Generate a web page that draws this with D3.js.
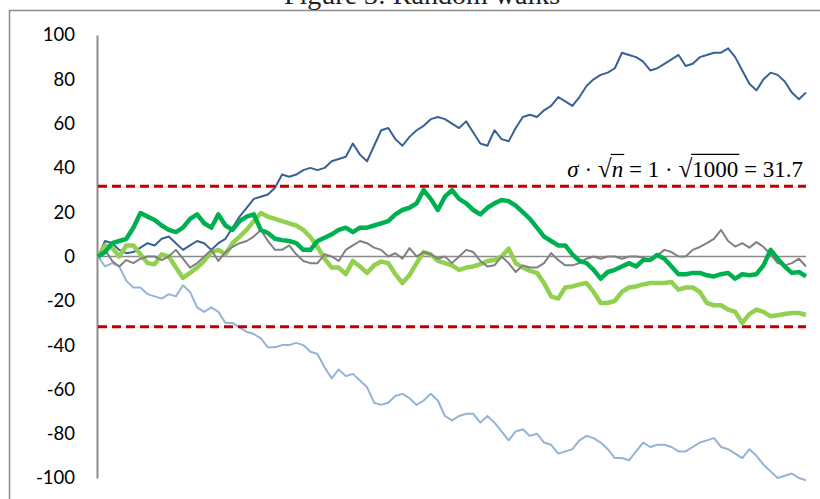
<!DOCTYPE html>
<html>
<head>
<meta charset="utf-8">
<script src="https://cdn.jsdelivr.net/npm/d3@7"></script>
<style>
  body { margin: 0; background: #fff; }
  svg { display: block; }
</style>
</head>
<body>
<script>
// values read every 10 steps (0..1000)
var darkBlue = [0,7,6,3,1.5,2,4,6,5,8, 9,6,3,5,7,6,3,6,8,13, 18,22,26,27,28,31,37,36,37,39,
  40,39,40,43,44,45,51,46,43,50, 57,58,53,50,54,57,59,62,63,62, 60,58,61,56,51,50,57,53,52,58,
  63,64,63,66,68,72,70,68,72,77, 80,82,83,85,92,91,90,88,84,85, 87,89,91,86,87,90,91,92,92,94,
  90,84,78,75,80,83,82,79,74,71, 74];
var lightBlue = [0,-4.5,-3,-4.5,-11,-14,-14,-17,-18,-19, -17,-18,-13,-16,-23,-25,-23,-25,-30,-30,
  -32,-34,-35,-37,-41,-41,-40,-40,-39,-40, -43,-44,-50,-55,-51,-54,-53,-56,-59,-66,
  -67,-66,-63,-62,-64,-67,-65,-62,-65,-72, -74,-72,-71,-71,-75,-72,-75,-79,-83,-79,
  -78,-81,-80,-84,-85,-89,-88,-87,-83,-81, -82,-84,-87,-91,-91,-92,-88,-84,-86,-85,
  -85,-86,-88,-88,-86,-84,-83,-82,-86,-87, -89,-91,-87,-90,-94,-97,-100,-99,-98,-100, -101];
var grey = [0,3,-2,-4.5,-1.6,-3,-1,0,0,-1.6, 0,3,-1,-5,-3,0,3,-2,2,4.3, 6,7,9,12,7,3,3,5,1,-2,
  -3,-3,1,0,-2,3,5,7,6,4, 3,0,1.5,-1,3.8,0,2,1,-1,0, -3,0,3,2,-2,-4.5,-4,0,-3,-7,
  -4,-5,-5,-3,1.5,-1.6,-4,-4,-3,-1, 0,-1,0,0,-1,0,0,-0.5,-1.6,0.5, 3,2,0,0,3,4.3,6,8,12,7,
  4.5,6,4,6.5,4.3,1,-3,-4,-3,-1, -4.5];
var green = [0,2,6,7,8,13,19.6,18,16.5,14, 12,11,13,17,19,15,13,19,14,12, 16,18,19,12,10.6,8,7.4,7,6,3,
  3,7,8.5,10,12,13,11,13,13,14, 15,16,19,21,22,24,30,26,21,27, 30,26,24,21,19,22,24,25.5,25,23,
  20,17,13,9,7,5,5,1,-2,-3, -6,-10,-7,-6,-4.5,-3,-4.5,-1.6,-1.6,0.7, -1,-4.5,-8,-8,-7.4,-7.4,-8.5,-9,-8,-7.4,
  -10,-8,-8.5,-8,-4,3,-1,-4.5,-7.4,-7, -9];
var lightGreen = [0,5,4,0,5,5,1,-3,-3.5,1, 0,-5,-9.7,-7.4,-5,-2,2,3,1,6, 9,12,16,19.6,18,17,16,15,14,12,
  8.8,4.3,-1,-5,-5,-8,-2,-4.5,-7.4,-4, -2.3,-3,-8,-12,-8.4,-3,2,1,-2,-3, -4,-6,-5,-4.5,-3.5,-2,-1.6,0,3.5,-3,
  -5,-6.5,-7.4,-12,-18,-19,-14,-13.5,-12.6,-12, -16,-21,-21,-20,-16,-14,-13.5,-12.6,-12,-12,
  -12,-11.5,-15,-14,-14,-16,-21,-22,-22,-24, -25,-30,-26,-24,-25,-27,-26.5,-26,-25.5,-25.5, -26.4];

var steps = d3.range(0, 1001, 10);
var yTicks = [-100, -80, -60, -40, -20, 0, 20, 40, 60, 80, 100];
var sigmaBand = 31.7;

var w = 820, h = 499;

var svg = d3.select("body").append("svg").attr("width", w).attr("height", h);

// chart frame (runs off the bottom/right of the picture)
svg.append("rect").attr("x", 9.5).attr("y", 10.5).attr("width", 840).attr("height", 540)
  .attr("fill", "none").attr("stroke", "#8c8c8c").attr("stroke-width", 1.5);

svg.append("text").attr("x", 422).attr("y", 4).attr("text-anchor", "middle")
  .attr("font-family", "Liberation Serif").attr("font-size", 28).attr("fill", "#222")
  .text("Figure 3: Random walks");

var x = d3.scaleLinear().domain([0, 1000]).range([98, 806]);
var y = d3.scaleLinear().domain([-100, 100]).range([478, 35]);

var yAxis = svg.append("g").attr("transform", "translate(97,0)")
  .call(d3.axisLeft(y).tickValues(yTicks).tickSize(0).tickPadding(22).tickFormat(String));
yAxis.select(".domain").attr("stroke", "#8c8c8c").attr("stroke-width", 2);
yAxis.selectAll("text").attr("font-family", "Lato").attr("font-size", 18.5).attr("fill", "#000");

// zero line
svg.append("line").attr("x1", x(0)).attr("x2", x(1000)).attr("y1", y(0)).attr("y2", y(0))
  .attr("stroke", "#8c8c8c").attr("stroke-width", 1.5);

var line = d3.line()
  .x(function(d, i) { return x(steps[i]); })
  .y(function(d) { return y(d); });

var series = [
  {vals: lightBlue, color: "#95b3d7", width: 2},
  {vals: darkBlue, color: "#3a6196", width: 2},
  {vals: lightGreen, color: "#92d050", width: 4.5},
  {vals: grey, color: "#808080", width: 2},
  {vals: green, color: "#00b050", width: 4.5}
];

series.forEach(function(s) {
  svg.append("path").datum(s.vals).attr("d", line)
    .attr("fill", "none").attr("stroke", s.color).attr("stroke-width", s.width)
    .attr("stroke-linejoin", "round");
});

// +/- sigma*sqrt(n) bands
[sigmaBand, -sigmaBand].forEach(function(v) {
  svg.append("line").attr("x1", x(0)).attr("x2", x(1000)).attr("y1", y(v)).attr("y2", y(v))
    .attr("stroke", "#c00000").attr("stroke-width", 3).attr("stroke-dasharray", "9,5");
});

// formula label, pieces laid out one after another
var fs = 23, base = 177;
var pieces = [
  {t: "\u03c3", it: true}, {t: " \u00b7 "}, {t: "\u221a", rad: true}, {t: "n", it: true, bar: true},
  {t: " = 1 \u00b7 "}, {t: "\u221a", rad: true}, {t: "1000", bar: true}, {t: " = 31.7"}
];
var eq = svg.append("g");
var cx = 0;
pieces.forEach(function(p) {
  var t = eq.append("text").attr("x", cx).attr("y", base)
    .attr("font-family", "Liberation Serif").attr("font-size", p.rad ? fs * 1.1 : fs)
    .attr("font-style", p.it ? "italic" : "normal").attr("fill", "#000")
    .style("white-space", "pre").text(p.t);
  var len = t.node().getComputedTextLength();
  if (p.bar) {
    eq.append("line").attr("x1", cx - 1).attr("x2", cx + len + 1)
      .attr("y1", base - fs * 0.98).attr("y2", base - fs * 0.98)
      .attr("stroke", "#000").attr("stroke-width", 1.2);
  }
  cx += len;
});
eq.attr("transform", "translate(" + (803 - cx) + ",0)");
</script>
</body>
</html>
